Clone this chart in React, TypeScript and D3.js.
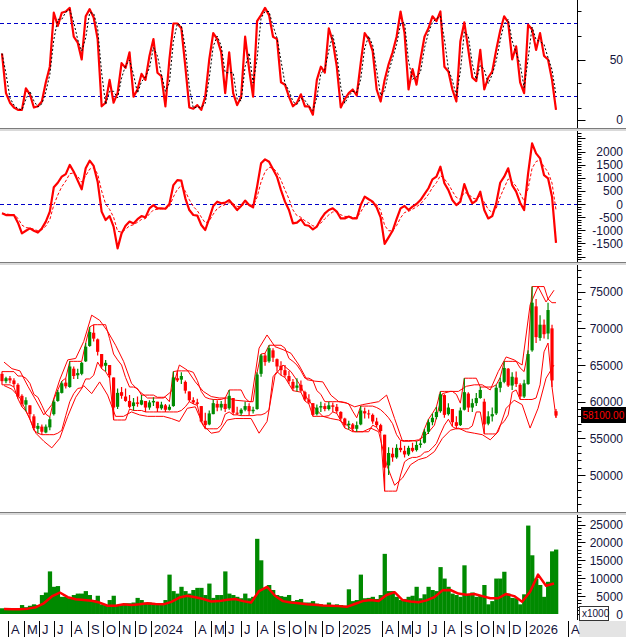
import React from "react";
import * as d3 from "d3";

const W = 626;
const H = 637;
const AXIS_X = 577.5;

// ---------- data (sampled ~ every 5 sessions) ----------
const oscillator = [
  55, 22, 14, 10, 8, 8, 26, 21, 10, 11,
  15, 31, 44, 89, 78, 89, 90, 93, 69, 64,
  50, 86, 92, 85, 67, 11, 14, 33, 14, 22,
  47, 43, 56, 19, 25, 38, 33, 53, 67, 39,
  36, 11, 50, 80, 80, 76, 44, 10, 9, 12,
  8, 19, 50, 72, 67, 56, 22, 56, 22, 12,
  19, 69, 42, 19, 82, 87, 93, 87, 69, 67,
  31, 29, 19, 11, 14, 21, 11, 11, 4, 33,
  44, 39, 76, 65, 44, 10, 17, 22, 25, 20,
  47, 72, 67, 57, 25, 15, 33, 46, 56, 69,
  90, 72, 25, 42, 29, 50, 69, 76, 86, 82,
  90, 44, 40, 25, 15, 65, 81, 58, 35, 32,
  58, 25, 35, 40, 58, 74, 86, 81, 50, 61,
  31, 22, 79, 75, 58, 72, 53, 50, 33, 8,
];

const macd = [
  -350, -420, -420, -420, -710, -1120, -1020, -930, -1020, -1090,
  -930, -670, -290, 640, 810, 1040, 1140, 1490, 1230, 890,
  560, 1360, 1650, 1450, 850, -290, -610, -460, -860, -1690,
  -1120, -830, -670, -740, -580, -460, -510, -165, -40, -165,
  -165, -180, 0, 720, 910, 890, 215, -230, -420, -440,
  -800, -990, -550, -75, 90, 25, 50, 150, -40, -230,
  -75, 130, -40, -130, 660, 1550, 1700, 1610, 1320, 1040,
  530, 90, -230, -740, -710, -580, -800, -830, -970, -860,
  -580, -360, -230, -165, -290, -550, -550, -480, -550, -550,
  -40, 280, 180, 90, -130, -510, -1520, -1270, -1020, -580,
  -165, -75, -230, -100, 0, 150, 380, 600, 940, 1040,
  1420, 790, 530, 150, -40, 90, 760, 340, 25, 130,
  470, -230, -550, -460, 25, 810, 1040, 1360, 720, 470,
  50, -230, 1170, 2310, 1930, 1740, 1100, 980, 280, -1480,
];

const opens = [
  63800, 62800, 63200, 62900, 62300, 60800, 59600, 59500, 58000, 56300,
  56600, 55800, 56500, 58300, 60100, 61200, 62600, 62000, 64500, 63600,
  63800, 65500, 67600, 69400, 68500, 66500, 64900, 65000, 63300, 59300,
  61300, 60700, 60100, 59400, 59900, 59600, 60100, 59200, 59900, 60000,
  59100, 59500, 58900, 59400, 63200, 63000, 62700, 61400, 60200, 59900,
  59400, 57400, 56900, 58300, 59700, 59200, 59700, 59100, 60500, 58500,
  58400, 58900, 59400, 58700, 59000, 63800, 66300, 65500, 67000, 65800,
  64900, 64300, 63500, 62700, 61900, 62300, 61300, 60300, 59800, 58300,
  59200, 59400, 59000, 59500, 59300, 58600, 57700, 56800, 56900, 56300,
  56900, 58700, 58400, 58200, 57300, 56800, 55500, 51300, 52900, 52400,
  53700, 53300, 52800, 53700, 53400, 54100, 54400, 55900, 57200, 57900,
  58700, 60900, 58300, 59000, 57200, 56800, 58900, 61100, 59200, 59800,
  60500, 60000, 57000, 58000, 58400, 61900, 62700, 64500, 62200, 63300,
  62300, 60700, 62400, 67000, 73000, 68700, 70500, 69300, 70000, 58700,
];

const highs = [
  64100, 63400, 63500, 63200, 62500, 61000, 60600, 59500, 58300, 57100,
  56900, 56900, 57900, 60300, 61600, 62800, 63200, 65500, 64800, 64500,
  65400, 68000, 70200, 70500, 68600, 66500, 65700, 65000, 63300, 61800,
  62000, 61800, 60900, 60500, 60700, 60900, 60100, 60200, 60600, 60000,
  60000, 59700, 59600, 64100, 64200, 64000, 62900, 61400, 60600, 60400,
  59400, 58500, 58800, 60300, 60200, 60100, 60500, 61600, 60500, 59300,
  59100, 60000, 59800, 59300, 64000, 66500, 66600, 67700, 67300, 65900,
  65500, 65000, 64200, 63100, 63200, 62900, 61500, 61000, 59800, 59600,
  60000, 59800, 60000, 59900, 59700, 58700, 57800, 57400, 57100, 57300,
  59400, 59200, 58900, 58400, 57800, 57000, 55500, 53800, 53700, 54200,
  54700, 54000, 54000, 54400, 54600, 54800, 56300, 57600, 58400, 59300,
  61400, 61000, 59800, 59000, 58000, 59200, 63200, 61300, 60400, 61200,
  62000, 60400, 58700, 59200, 62300, 63300, 65500, 64600, 64000, 64100,
  62500, 63000, 67000, 75700, 74000, 71800, 71200, 73500, 70500, 59000,
];

const lows = [
  62300, 62500, 62500, 62000, 60400, 59300, 58700, 57700, 56100, 55700,
  55500, 55700, 56100, 58100, 60000, 61100, 61800, 61900, 63100, 63100,
  63600, 65400, 67500, 68200, 66300, 64500, 64100, 63200, 57500, 59000,
  60400, 60000, 59100, 58800, 59300, 59500, 58600, 58900, 59400, 58600,
  58900, 58600, 58800, 59300, 62700, 62400, 61100, 60000, 59700, 59500,
  57200, 56300, 56800, 58300, 58700, 58800, 58600, 58900, 58200, 58200,
  58100, 58700, 58200, 58400, 58900, 63400, 64900, 65300, 65400, 64100,
  63600, 63300, 62400, 61500, 61400, 61300, 60100, 59700, 58000, 58100,
  58600, 58700, 58800, 58600, 58400, 57400, 56400, 56200, 55900, 55900,
  56800, 57700, 57700, 57000, 56500, 55700, 47800, 50000, 51800, 52200,
  53100, 52400, 52600, 53100, 53200, 53700, 54300, 55600, 56800, 57600,
  58500, 57800, 58100, 56600, 56300, 56700, 58800, 58600, 58600, 59400,
  60400, 55600, 56800, 57300, 58200, 61300, 62500, 62000, 61600, 62000,
  60300, 60500, 62300, 66800, 68000, 68300, 68600, 68500, 62000, 57800,
];

const closes = [
  62800, 63200, 62900, 62400, 60700, 59700, 60200, 58300, 56400, 56700,
  55900, 56600, 57600, 60000, 61300, 62500, 62100, 64800, 63500, 63900,
  65300, 67500, 69500, 68600, 66800, 64800, 65300, 63600, 59200, 61200,
  60800, 60100, 59300, 59900, 59700, 60200, 59200, 59900, 60100, 59100,
  59600, 58900, 59300, 63300, 62900, 63500, 61500, 60200, 59900, 59700,
  57300, 56800, 58400, 59800, 59200, 59700, 59000, 60800, 58500, 58400,
  58900, 59400, 58700, 58900, 63700, 66300, 65400, 67300, 66000, 64800,
  64300, 63600, 62800, 61800, 62200, 61500, 60300, 59900, 58200, 59200,
  59400, 59000, 59500, 59300, 58700, 57700, 56800, 57000, 56300, 56800,
  58800, 58400, 58300, 57300, 56800, 56000, 51000, 53000, 52400, 53700,
  53400, 52800, 53700, 53300, 54100, 54300, 55900, 57200, 57800, 58600,
  61000, 58200, 59200, 57200, 56700, 58800, 61300, 59200, 59800, 60500,
  61600, 56900, 58000, 58300, 61900, 62700, 64600, 62200, 63400, 62400,
  60700, 62500, 66500, 73500, 68800, 70500, 69200, 72500, 62900, 58100,
];

// Bollinger band edges, one value per two samples
const bandUpper = [
  65400, 64500, 64200, 62100, 60200, 58200, 59600, 63000, 65700, 65900,
  68200, 71800, 71100, 69600, 67700, 65500, 62500, 61400, 60500, 60500,
  60500, 61400, 65000, 64300, 62700, 61400, 60700, 60500, 60500, 60200,
  60100, 60000, 67300, 69100, 67500, 67100, 66600, 65000, 63000, 62800,
  62700, 60900, 60000, 59800, 59300, 59600, 59800, 60000, 60900, 57700,
  54600, 54600, 54800, 55500, 56800, 61100, 61400, 61400, 62100, 62300,
  62300, 61600, 64100, 66100, 65700, 65000, 73200, 75700, 73600, 75200,
];
const bandLower = [
  62200, 61700, 60500, 58200, 55700, 54600, 53700, 55000, 58000, 60600,
  62200, 61100, 62700, 60900, 58000, 58000, 58600, 58200, 58000, 58000,
  58000, 57700, 57300, 59100, 59300, 56800, 55700, 55900, 57500, 57700,
  57700, 57700, 55700, 57300, 63600, 65000, 64100, 62500, 60500, 59100,
  58000, 57700, 57500, 56800, 55900, 55900, 56400, 55900, 51400, 48600,
  49600, 51400, 52100, 52400, 53200, 55000, 56100, 56400, 55900, 55700,
  55500, 54800, 55900, 59100, 60200, 59600, 56400, 59100, 63200, 65000,
];

const volumes = [
  1600, 1600, 1400, 1300, 1400, 2500, 1900, 2300, 2700, 2500,
  5300, 6000, 11900, 7600, 7800, 4800, 4800, 4400, 5300, 5700,
  5700, 6400, 5300, 3900, 5100, 2700, 2500, 3900, 5100, 2500,
  2700, 3000, 3000, 3200, 4500, 3900, 3200, 3200, 3000, 2900,
  2900, 3900, 11000, 6400, 5700, 7600, 6400, 5700, 6700, 7300,
  7300, 5300, 8500, 4500, 5300, 5300, 11900, 5700, 5300, 4800,
  4400, 5700, 4400, 4800, 21000, 15000, 7300, 8100, 6700, 5300,
  5000, 4800, 5300, 3600, 3900, 4200, 3200, 3200, 3600, 2900,
  2700, 2500, 3200, 2300, 2700, 2500, 2300, 6900, 3600, 3900,
  11000, 4400, 4500, 4800, 4200, 5300, 16800, 6400, 6400, 4800,
  3900, 4200, 4800, 5100, 7600, 4400, 5500, 7600, 6700, 6400,
  13100, 9900, 7600, 5700, 5300, 4800, 13600, 5500, 6000, 4800,
  5300, 8100, 2700, 3600, 9900, 9900, 11800, 5700, 4500, 4400,
  2700, 5500, 24700, 16400, 9900, 8100, 4800, 9000, 17500, 18000,
];

// volume moving average, one value per two samples
const volumeMA = [
  1400, 1300, 1300, 1500, 1900, 3000, 4900, 6000, 4700, 4100,
  3900, 3700, 3200, 2300, 2300, 2700, 2500, 2700, 3000, 2800,
  2700, 3400, 4600, 5100, 4700, 4200, 3500, 3600, 4000, 4200,
  3600, 3200, 6400, 7600, 5100, 3600, 3200, 3000, 2700, 2600,
  2400, 2300, 2200, 2000, 2800, 3600, 3900, 3600, 5300, 6100,
  3900, 3500, 3300, 3800, 4700, 6600, 6700, 5700, 5400, 5600,
  5000, 4400, 4400, 5600, 5000, 3400, 6200, 11000, 7900, 8500,
];

const monthPositions = [
  2.0, 6.0, 9.8, 13.5, 17.8, 22.1, 25.8, 29.9, 33.9, 37.9,
  48.9, 52.9, 56.4, 60.5, 64.5, 68.7, 72.5, 76.5, 80.8, 85.0,
  95.8, 99.8, 103.4, 107.4, 111.4, 115.7, 119.7, 123.7, 127.7, 132.0,
  142.5,
];
const monthLabels = [
  "A", "M", "J", "J", "A", "S", "O", "N", "D", "2024",
  "A", "M", "J", "J", "A", "S", "O", "N", "D", "2025",
  "A", "M", "J", "J", "A", "S", "O", "N", "D", "2026",
  "A",
];

const lastPriceLabel = "58100.00";

// ---------- styling ----------
const RED = "#ff0000";
const GREEN = "#008a00";
const BLUE = "#0000c8";
const TEXT = "#14143c";
const FONT = '"Liberation Sans", Arial, Helvetica, sans-serif';

export default function App() {
  const N = closes.length;
  const x = d3.scaleLinear().domain([0, N]).range([0, 558]);
  const cx = (i: number) => x(i + 0.5);

  const panels = [
    { top: 0, bottom: 128 },
    { top: 132, bottom: 262 },
    { top: 266, bottom: 512 },
    { top: 516, bottom: 620 },
  ];

  const y1 = d3.scaleLinear().domain([0, 100]).range([119.5, -0.5]);
  const y2 = d3.scaleLinear().domain([-2000, 2000]).range([256.5, 151.5]);
  const y3 = d3.scaleLinear().domain([50000, 75000]).range([475, 291.7]);
  const y4 = d3.scaleLinear().domain([0, 25000]).range([614, 524.5]);

  // derived indicator lines
  const oscSignal = oscillator.map((v, i) => (i === 0 ? v : (v + oscillator[i - 1]) / 2));
  const macdSignal: number[] = [];
  macd.forEach((v, i) => {
    macdSignal.push(i === 0 ? v : macdSignal[i - 1] + 0.45 * (v - macdSignal[i - 1]));
  });
  const P = 4;
  const channel = closes.map((_, i) => {
    const hs = highs.slice(Math.max(0, i - P + 1), i + 1);
    const ls = lows.slice(Math.max(0, i - P + 1), i + 1);
    return { hh: d3.max(hs) as number, ll: d3.min(ls) as number };
  });

  const lineOf = (vals: number[], ys: d3.ScaleLinear<number, number>) =>
    d3.line<number>().x((_, i) => cx(i)).y((d) => ys(d))(vals) || "";
  const halfLine = (vals: number[], ys: d3.ScaleLinear<number, number>) =>
    d3.line<number>().x((_, k) => x(2 * k + 1)).y((d) => ys(d))(vals) || "";
  const channelLine = (key: "hh" | "ll") =>
    d3.line<(typeof channel)[number]>().x((_, i) => cx(i)).y((d) => y3(d[key]))(channel) || "";

  const tickSet = (
    ys: d3.ScaleLinear<number, number>,
    major: number[],
    minor: number[],
    labels: number[],
    key: string
  ) => (
    <g key={key}>
      {minor.map((v) => (
        <line key={"mi" + v} x1={AXIS_X} x2={AXIS_X + 4} y1={Math.round(ys(v)) + 0.5} y2={Math.round(ys(v)) + 0.5} stroke="#000" />
      ))}
      {major.map((v) => (
        <line key={"ma" + v} x1={AXIS_X} x2={AXIS_X + 8} y1={Math.round(ys(v)) + 0.5} y2={Math.round(ys(v)) + 0.5} stroke="#000" />
      ))}
      {labels.map((v) => (
        <text key={"l" + v} x={623} y={ys(v) + 4.5} textAnchor="end" fontSize={12} fill={TEXT}>
          {String(v)}
        </text>
      ))}
    </g>
  );

  const inRange = (arr: number[], ys: d3.ScaleLinear<number, number>, p: { top: number; bottom: number }) =>
    arr.filter((v) => ys(v) >= p.top + 1 && ys(v) <= p.bottom - 1);

  const p1Major = [0, 50];
  const p1Minor = [10, 30, 70, 90];
  const p2Major = inRange(d3.range(-3000, 3001, 500), y2, panels[1]);
  const p2Minor = inRange(d3.range(-3000, 3001, 100), y2, panels[1]);
  const p3Major = inRange(d3.range(40000, 80001, 5000), y3, panels[2]);
  const p3Minor = inRange(d3.range(40000, 80001, 1000), y3, panels[2]);
  const p4Major = inRange(d3.range(0, 30001, 5000), y4, panels[3]);
  const p4Minor = inRange(d3.range(0, 30001, 1000), y4, panels[3]);

  const separators = [128, 262, 512];

  return (
    <div style={{ position: "fixed", left: 0, top: 0, width: W, height: H, background: "#fff" }}>
      <svg width={W} height={H} style={{ display: "block", fontFamily: FONT }}>
        <defs>
          {panels.map((p, i) => (
            <clipPath id={"clip" + i} key={i}>
              <rect x={0} y={p.top} width={AXIS_X} height={p.bottom - p.top} />
            </clipPath>
          ))}
        </defs>
        <rect x={0} y={0} width={W} height={H} fill="#fff" />

        {/* Panel 1: oscillator */}
        <g clipPath="url(#clip0)">
          {[80, 20].map((v) => (
            <line key={v} x1={0} x2={AXIS_X} y1={Math.round(y1(v)) + 0.5} y2={Math.round(y1(v)) + 0.5} stroke={BLUE} strokeDasharray="4,3" />
          ))}
          <path d={lineOf(oscillator, y1)} fill="none" stroke={RED} strokeWidth={2.2} strokeLinejoin="round" />
          <path d={lineOf(oscSignal, y1)} fill="none" stroke="#000" strokeWidth={1} strokeDasharray="2,2" />
        </g>

        {/* Panel 2: MACD */}
        <g clipPath="url(#clip1)">
          <line x1={0} x2={AXIS_X} y1={Math.round(y2(0)) + 0.5} y2={Math.round(y2(0)) + 0.5} stroke={BLUE} strokeDasharray="4,3" />
          <path d={lineOf(macdSignal, y2)} fill="none" stroke={RED} strokeWidth={1} strokeDasharray="3,2" />
          <path d={lineOf(macd, y2)} fill="none" stroke={RED} strokeWidth={2.2} strokeLinejoin="round" />
        </g>

        {/* Panel 3: price */}
        <g clipPath="url(#clip2)">
          <path d={halfLine(bandUpper, y3)} fill="none" stroke={RED} strokeWidth={1} />
          <path d={halfLine(bandLower, y3)} fill="none" stroke={RED} strokeWidth={1} />
          {(["hh", "ll"] as const).map((k) => (
            <path key={k} d={channelLine(k)} fill="none" stroke={RED} strokeWidth={1} />
          ))}
          {closes.map((c, i) => {
            const o = opens[i];
            const up = c >= o;
            const col = up ? GREEN : RED;
            const yTop = y3(Math.max(o, c));
            const yBot = y3(Math.min(o, c));
            return (
              <g key={i}>
                <line x1={cx(i)} x2={cx(i)} y1={y3(highs[i])} y2={y3(lows[i])} stroke={col} strokeWidth={1.2} />
                <rect x={cx(i) - 1.6} y={yTop} width={3.2} height={Math.max(1, yBot - yTop)} fill={col} />
              </g>
            );
          })}
        </g>

        {/* Panel 4: volume */}
        <g clipPath="url(#clip3)">
          {volumes.map((v, i) => (
            <rect key={i} x={x(i)} y={y4(v)} width={x(i + 1) - x(i) + 0.3} height={y4(0) - y4(v)} fill={GREEN} />
          ))}
          <path d={halfLine(volumeMA, y4)} fill="none" stroke={RED} strokeWidth={2.5} strokeLinejoin="round" />
        </g>

        {/* right axis */}
        <line x1={AXIS_X} x2={AXIS_X} y1={0} y2={620} stroke="#000" />
        {tickSet(y1, p1Major, p1Minor, [50, 0], "t1")}
        {tickSet(y2, p2Major, p2Minor, [2000, 1500, 1000, 500, 0, -500, -1000, -1500], "t2")}
        {tickSet(y3, p3Major, p3Minor, [75000, 70000, 65000, 60000, 55000, 50000], "t3")}
        {tickSet(y4, p4Major, p4Minor, [25000, 20000, 15000, 10000, 5000, 0], "t4")}

        {/* panel separators */}
        {separators.map((s) => (
          <g key={s}>
            <rect x={0} y={s} width={W} height={1} fill="#7c7c7c" />
            <rect x={0} y={s + 1} width={W} height={2} fill="#d9d9d9" />
          </g>
        ))}

        {/* last price marker */}
        <rect x={581} y={407} width={45} height={16} fill="#000" />
        <text x={582.5} y={419} fontSize={10} fill={RED}>
          {lastPriceLabel}
        </text>

        {/* x1000 box */}
        <rect x={579.5} y={606.5} width={29} height={14} fill="#fff" stroke="#333" />
        <text x={582} y={617} fontSize={10} fill={TEXT}>
          x1000
        </text>

        {/* bottom time axis */}
        <rect x={579} y={621} width={W - 579} height={16} fill="#e4e4e4" />
        {monthPositions.map((p, i) => (
          <g key={i}>
            <line x1={Math.round(x(p)) + 0.5} x2={Math.round(x(p)) + 0.5} y1={621} y2={637} stroke="#000" />
            <text x={Math.round(x(p)) + 3} y={634} fontSize={13} fill={TEXT}>
              {monthLabels[i]}
            </text>
          </g>
        ))}
      </svg>
    </div>
  );
}
